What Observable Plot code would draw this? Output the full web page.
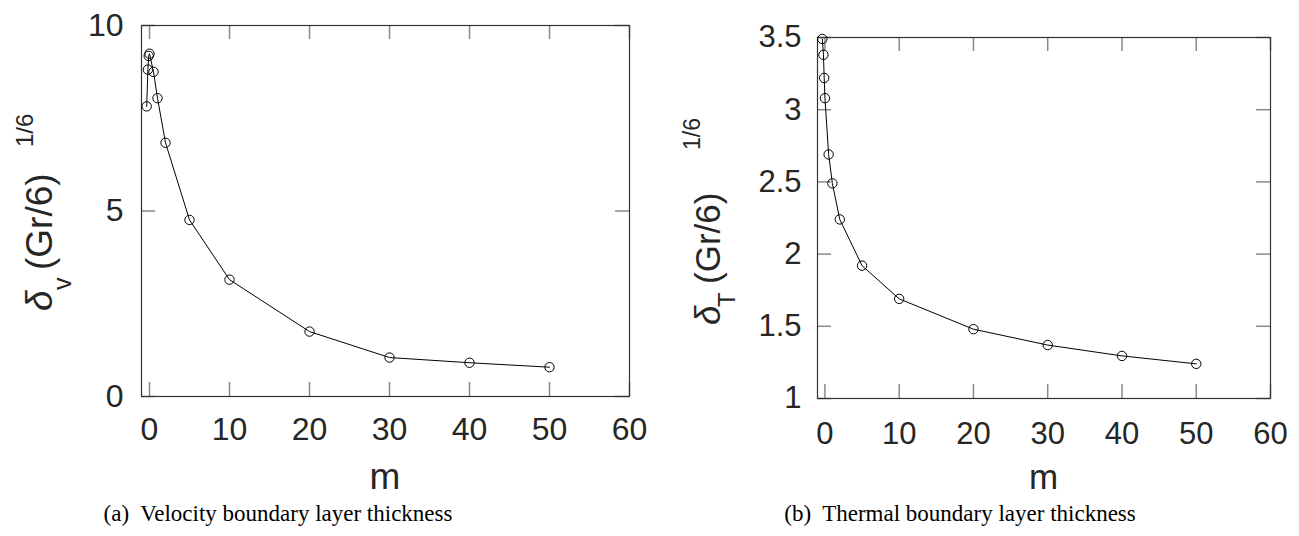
<!DOCTYPE html>
<html><head><meta charset="utf-8">
<script src="https://cdn.jsdelivr.net/npm/d3@7"></script>
<script src="https://cdn.jsdelivr.net/npm/@observablehq/plot@0.6"></script>
<style>
html,body{margin:0;padding:0;background:#fff;}
#wrap{position:relative;width:1299px;height:536px;overflow:hidden;background:#fff;}
.panel{position:absolute;top:0;}
.cap{position:absolute;top:502px;font-family:"Liberation Serif","Times New Roman",serif;font-size:23px;line-height:1;color:#000;white-space:pre;transform:translateX(-50%);}
</style></head><body>
<div id="wrap"></div>
<script>
// data
const m = [-0.35, -0.2, -0.1, 0, 0.5, 1, 2, 5, 10, 20, 30, 40, 50];
const deltaV = [7.82, 8.81, 9.18, 9.24, 8.75, 8.04, 6.84, 4.76, 3.15, 1.75, 1.05, 0.91, 0.79];
const deltaT = [3.49, 3.38, 3.22, 3.08, 2.69, 2.49, 2.24, 1.92, 1.69, 1.48, 1.37, 1.295, 1.24];
const xTicks = [0, 10, 20, 30, 40, 50, 60];
const yTicksV = [0, 5, 10];
const yTicksT = [1, 1.5, 2, 2.5, 3, 3.5];
const xLabel = "m";
const captionA = "(a)\u00a0 Velocity boundary layer thickness";
const captionB = "(b)\u00a0 Thermal boundary layer thickness";

function panel(o) {
  const data = m.map((v, i) => ({m: v, y: o.values[i]}));
  const W = o.width - o.mL - o.mR, H = o.height - o.mT - o.mB;
  const tk = {stroke: "#8a8a8a", strokeWidth: 1.5};
  const svg = Plot.plot({
    width: o.width, height: o.height,
    marginLeft: o.mL, marginRight: o.mR, marginTop: o.mT, marginBottom: o.mB,
    style: {fontFamily: "'Liberation Sans', Arial, Helvetica, sans-serif", color: "#262626", background: "white", overflow: "visible"},
    x: {domain: [-1, 60]},
    y: {domain: o.yDomain},
    marks: [
      Plot.tickX(xTicks, {x: d => d, insetTop: H - 14, ...tk}),
      Plot.tickX(xTicks, {x: d => d, insetBottom: H - 14, ...tk}),
      Plot.tickY(o.yTicks, {y: d => d, insetRight: W - 14, ...tk}),
      Plot.tickY(o.yTicks, {y: d => d, insetLeft: W - 14, ...tk}),
      Plot.frame({stroke: "#333", strokeWidth: 1.2}),
      Plot.axisX({ticks: xTicks, anchor: "bottom", tickSize: 0, tickPadding: o.xPad, fontSize: o.fs, label: null, tickFormat: d => String(d)}),
      Plot.axisY({ticks: o.yTicks, anchor: "left", tickSize: 0, tickPadding: o.yPad, fontSize: o.fs, label: null, tickFormat: d => String(d)}),
      Plot.line(data, {x: "m", y: "y", stroke: "black", strokeWidth: 1}),
      Plot.dot(data, {x: "m", y: "y", r: 4.7, stroke: "black", fill: "none", strokeWidth: 1})
    ]
  });
  const s = d3.select(svg);
  // x label
  s.append("text").attr("x", o.mL + W / 2).attr("y", o.xLabY)
    .attr("text-anchor", "middle").style("font-size", o.labFs + "px").attr("fill", "#262626").text(xLabel);
  // y label: separate rotated pieces; (along, across) in the rotated frame
  const piece = (txt, along, across, fs, italic) => {
    const el = s.append("text")
      .attr("transform", `translate(${o.yl.x + across},${o.yl.y - along}) rotate(-90)`)
      .attr("text-anchor", "start")
      .attr("fill", "#262626").style("font-size", fs + "px").text(txt);
    if (italic) el.style("font-style", "italic");
  };
  piece("δ", 0, 0, o.labFs, true);
  piece(o.yl.sub, o.yl.subX, o.yl.subY, o.yl.subFs, false);
  piece("(Gr/6)", o.yl.mainX, 0, o.labFs, false);
  piece("1/6", o.yl.supX, o.yl.supY, o.yl.supFs, false);
  return svg;
}

const wrap = document.getElementById("wrap");
const left = panel({
  width: 650, height: 460, mL: 141, mR: 21, mT: 25, mB: 64,
  yDomain: [0, 10], yTicks: yTicksV, values: deltaV, fs: 32, xPad: 21, yPad: 18,
  labFs: 37, xLabY: 489,
  yl: {x: 52, y: 311, sub: "v", subX: 21, subY: 19, subFs: 25, mainX: 41, supX: 164, supY: -19, supFs: 24}
});
const right = panel({
  width: 649, height: 460, mL: 167, mR: 29, mT: 37, mB: 62,
  yDomain: [1, 3.5], yTicks: yTicksT, values: deltaT, fs: 31, xPad: 23, yPad: 16,
  labFs: 35, xLabY: 489,
  yl: {x: 70, y: 325, sub: "T", subX: 18, subY: 15, subFs: 24, mainX: 41, supX: 175, supY: -20, supFs: 23}
});
const d1 = document.createElement("div"); d1.className = "panel"; d1.style.left = "0px"; d1.appendChild(left);
const d2 = document.createElement("div"); d2.className = "panel"; d2.style.left = "650px"; d2.appendChild(right);
wrap.appendChild(d1); wrap.appendChild(d2);
const c1 = document.createElement("div"); c1.className = "cap"; c1.style.left = "278px"; c1.textContent = captionA;
const c2 = document.createElement("div"); c2.className = "cap"; c2.style.left = "960px"; c2.textContent = captionB;
wrap.appendChild(c1); wrap.appendChild(c2);
</script>
</body></html>
